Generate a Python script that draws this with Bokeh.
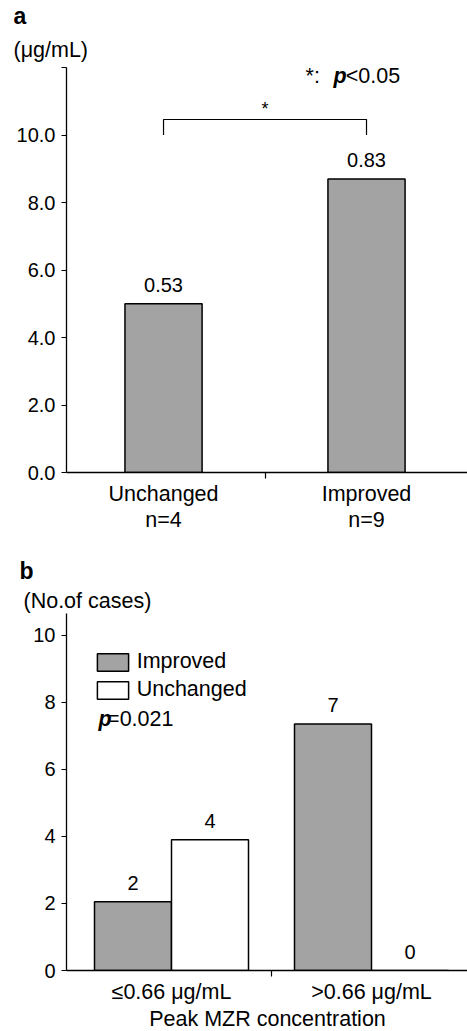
from bokeh.plotting import figure
from bokeh.models import (ColumnDataSource, FixedTicker, Label, LabelSet, Legend,
                          LegendItem, Range1d, Title)
from bokeh.layouts import column
from bokeh.transform import dodge
from bokeh.embed import file_html
from bokeh.resources import INLINE
from bokeh.core.properties import value

FONT = "Liberation Sans"
GRAY = "#a3a3a3"
TXT = "21.5px"

# ---------------- data: panel a ----------------
a_groups = ["Unchanged", "Improved"]
a_n = ["n=4", "n=9"]
a_heights = [5.0, 8.7]
a_labels = ["0.53", "0.83"]
a_yticks = [0, 2, 4, 6, 8, 10, 12]
a_sig_base = 10.0
a_sig_top = 10.46

# ---------------- data: panel b ----------------
b_groups = ["≤0.66 μg/mL", ">0.66 μg/mL"]
b_improved = [2.05, 7.35]
b_unchanged = [3.9, 0.0]
b_improved_lbl = ["2", "7"]
b_unchanged_lbl = ["4", "0"]
b_yticks = [0, 2, 4, 6, 8, 10]


def style_axes(p, yticks, ylabels, xticks, xlabels):
    p.outline_line_color = None
    p.grid.visible = False
    ya = p.yaxis[0]
    ya.axis_label = None
    ya.ticker = FixedTicker(ticks=yticks)
    ya.major_label_overrides = {t: l for t, l in zip(yticks, ylabels)}
    ya.major_tick_out = 5
    ya.major_tick_in = 0
    ya.minor_tick_line_color = None
    ya.major_label_standoff = 6
    ya.axis_line_color = "black"
    ya.axis_line_width = 1.3
    ya.major_tick_line_width = 1.2
    ya.major_label_text_font = FONT
    ya.major_label_text_font_size = "20px"
    ya.major_label_text_color = "black"

    xa = p.xaxis[0]
    xa.axis_label = None
    xa.ticker = FixedTicker(ticks=xticks, minor_ticks=[0.5])
    xa.major_label_overrides = {t: l for t, l in zip(xticks, xlabels)}
    xa.major_tick_line_color = None
    xa.major_tick_out = 0
    xa.major_tick_in = 0
    xa.minor_tick_out = 6
    xa.minor_tick_in = 0
    xa.minor_tick_line_color = "black"
    xa.minor_tick_line_width = 1.2
    xa.axis_line_color = "black"
    xa.axis_line_width = 1.3
    xa.major_label_text_font = FONT
    xa.major_label_text_font_size = TXT
    xa.major_label_text_color = "black"
    xa.major_label_standoff = 3


def txt(p, x, y, s, size=TXT, style="normal", align="left", baseline="middle", yoff=0):
    p.add_layout(Label(x=x, y=y, text=s, text_font=FONT, text_font_size=size,
                       text_font_style=style, text_align=align, y_offset=yoff,
                       text_baseline=baseline, text_color="black"))


def head(p, s, size, style, offset, standoff):
    p.add_layout(Title(text=s, align="left", offset=offset, standoff=standoff,
                       text_font=FONT, text_font_size=size, text_font_style=style,
                       text_color="black"), "above")


# ================= panel a =================
# frame starts at 66 px (space the y axis needs); range chosen to keep 203 px per category
pa = figure(frame_width=401, frame_height=405, title=None,
            x_range=Range1d(-0.478, 1.4975), y_range=Range1d(0, 12),
            output_backend="svg", toolbar_location=None,
            min_border_left=66, min_border_right=0, min_border_top=67, min_border_bottom=73)
a_x = list(range(len(a_groups)))
src_a = ColumnDataSource(dict(x=a_x, top=a_heights, lbl=a_labels))
pa.vbar(x="x", top="top", width=0.38, source=src_a, fill_color=GRAY,
        line_color="black", line_width=1.5)
pa.add_layout(LabelSet(x="x", y="top", text="lbl", source=src_a, text_align="center",
                       text_baseline="middle", y_offset=19, text_font=value(FONT),
                       text_font_size=value("20px"), text_color="black"))
style_axes(pa, a_yticks, ["%.1f" % t if t <= 10 else "" for t in a_yticks],
           a_x, [g + "\n" + n for g, n in zip(a_groups, a_n)])
pa.xaxis[0].major_label_text_line_height = 1.1

# significance bracket
pa.line(x=[a_x[0], a_x[0], a_x[1], a_x[1]],
        y=[a_sig_base, a_sig_top, a_sig_top, a_sig_base], line_color="black", line_width=1.2)
txt(pa, (a_x[0] + a_x[1]) / 2, a_sig_top, "*", size="18px", align="center", yoff=10)

# annotations
txt(pa, 0.70, 11.76, "*:")
txt(pa, 0.837, 11.76, "p", style="bold italic")
txt(pa, 0.898, 11.76, "<0.05")
head(pa, "(μg/mL)", TXT, "normal", -53, 12)
head(pa, "a", "23px", "bold", -53, 1)

# ================= panel b =================
pb = figure(frame_width=402, frame_height=357, title=None,
            x_range=Range1d(-0.525, 1.485), y_range=Range1d(0, 10.65),
            output_backend="svg", toolbar_location=None,
            min_border_left=65, min_border_right=0, min_border_top=68, min_border_bottom=10)
b_x = list(range(len(b_groups)))
src_b = ColumnDataSource(dict(x=b_x, imp=b_improved, unc=b_unchanged,
                              imp_lbl=b_improved_lbl, unc_lbl=b_unchanged_lbl))
off = 0.1925
r_imp = pb.vbar(x=dodge("x", -off), top="imp", width=0.385, source=src_b,
                fill_color=GRAY, line_color="black", line_width=1.5)
r_unc = pb.vbar(x=dodge("x", off), top="unc", width=0.385, source=src_b,
                fill_color="white", line_color="black", line_width=1.5)
for col, lbl, o in (("imp", "imp_lbl", -off), ("unc", "unc_lbl", off)):
    pb.add_layout(LabelSet(x=dodge("x", o), y=col, text=lbl, source=src_b,
                           text_align="center", text_baseline="middle", y_offset=19,
                           text_font=value(FONT), text_font_size=value("20px"),
                           text_color="black"))
style_axes(pb, b_yticks, [str(t) for t in b_yticks], b_x, b_groups)
xb = pb.xaxis[0]
xb.major_label_standoff = 3
xb.major_label_text_line_height = 1.0
xb.axis_label = "Peak MZR concentration"
xb.axis_label_standoff = 0
xb.axis_label_text_line_height = 1.0
xb.axis_label_text_font = FONT
xb.axis_label_text_font_size = TXT
xb.axis_label_text_font_style = "normal"
xb.axis_label_text_color = "black"

legend = Legend(items=[LegendItem(label="Improved", renderers=[r_imp]),
                       LegendItem(label="Unchanged", renderers=[r_unc])],
                location=(47, 268), glyph_width=39, glyph_height=22, label_height=22,
                label_width=10, spacing=3, padding=0, margin=0, label_standoff=5,
                border_line_color=None, background_fill_alpha=0,
                label_text_font=FONT, label_text_font_size=TXT, label_text_color="black")
pb.add_layout(legend)

txt(pb, -0.365, 7.49, "p", style="bold italic")
txt(pb, -0.322, 7.49, "=0.021")
head(pb, "(No.of cases)", TXT, "normal", -43, 2)
head(pb, "b", "23px", "bold", -47, 4)

layout = column(pa, pb, spacing=0)
open("out.html", "w").write(file_html(layout, INLINE))
